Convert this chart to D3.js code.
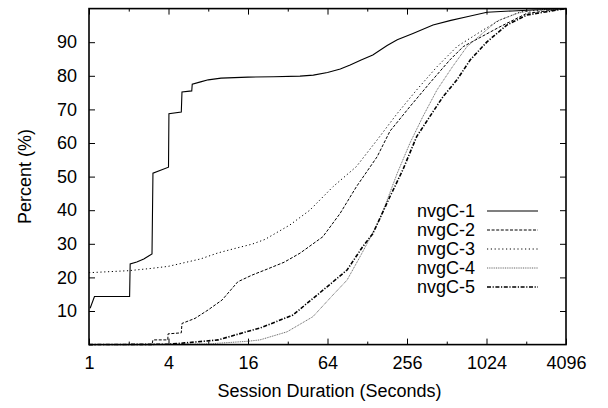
<!DOCTYPE html>
<html>
<head>
<meta charset="utf-8">
<script src="https://cdn.jsdelivr.net/npm/d3@7/dist/d3.min.js"></script>
<style>
  html, body { margin: 0; padding: 0; background: #fff; }
  svg text { font-family: "Liberation Sans", Arial, Helvetica, sans-serif; fill: #000; }
</style>
</head>
<body>
<svg id="chart" width="608" height="408"></svg>
<script>
// ---- data (duration in seconds, cumulative percent) ----
const seriesNames = ["nvgC-1", "nvgC-2", "nvgC-3", "nvgC-4", "nvgC-5"];

const nvgC1 = [[1.02,10.8],[1.1,14.3],[2.03,14.3],[2.05,24],[2.3,24.6],[2.6,25.5],[3.0,27],[3.05,51],[4.0,52.8],[4.03,68.7],[5.0,69.2],[5.06,75.2],[6.0,75.5],[6.05,77.5],[7.0,78.2],[8,78.8],[10,79.3],[16,79.6],[25,79.7],[39.6,79.9],[50,80.2],[64,81],[80,82],[95,83.2],[115,84.7],[141,86.2],[181,89],[216,90.7],[284,92.6],[403,95.1],[550,96.5],[729,97.6],[1032,98.9],[1600,99.3],[2300,99.6],[4096,100]];

const nvgC2 = [[1,0],[3.0,0],[3.05,1.4],[3.95,1.4],[3.97,3.2],[5.0,3.5],[5.06,6.3],[6.35,7.8],[7.97,10.3],[10.2,13.3],[13.4,18.7],[17.2,20.7],[21.5,22.2],[30,24.5],[39.6,27.2],[59,32.1],[79.6,39],[106,47],[152,55.9],[190,63.5],[269,70.8],[380,77.8],[540,84.7],[683,88.7],[1296,94.6],[2070,98.6],[4096,100]];

const nvgC3 = [[1,21.4],[2,22],[3,22.7],[4,23.3],[5.3,24.4],[7,25.5],[9.5,27.3],[13,28.7],[17.2,29.9],[21.5,31.3],[33.2,35.6],[47,40],[70.5,47],[106,53],[152,60.9],[216,68.8],[303,75.8],[432,82.7],[612,88.7],[1000,94],[1296,96.6],[1836,99],[2800,99.7],[4096,100]];

const nvgC4 = [[1,0],[8,0.2],[16,1.0],[19.7,1.4],[31.6,3.8],[49.6,8.3],[70.5,14.8],[90,19.2],[113,26.2],[134,31.6],[160,37.5],[181,43],[216,51],[269,59.9],[337,67.8],[432,75.8],[566,82.7],[729,88.7],[1230,96.3],[1760,98.6],[2300,99.6],[4096,100]];

const nvgC5 = [[1,0],[4,0.1],[5.3,0.5],[9.5,1.4],[17.2,4.3],[19.7,4.9],[35,8.8],[63.5,17.2],[90,22.2],[118,29.1],[141,33],[190,44],[238,52],[303,61.9],[380,67.8],[480,73.8],[612,78.8],[770,84.7],[1032,90.1],[1460,95.1],[2070,98.1],[4096,100]];

const xMajorTicks = [1, 4, 16, 64, 256, 1024, 4096];
const xMinorTicks = [2, 8, 32, 128, 512, 2048];
const yTicks = [10, 20, 30, 40, 50, 60, 70, 80, 90];

// ---- styles ----
const seriesData = [nvgC1, nvgC2, nvgC3, nvgC4, nvgC5];
const styles = [
  { stroke: "#000", width: 1.1, dash: null },
  { stroke: "#000", width: 1, dash: "3,1.6" },
  { stroke: "#000", width: 1, dash: "1.2,2.6" },
  { stroke: "#666", width: 1, dash: "1,0.8" },
  { stroke: "#000", width: 1.6, dash: "4,1.6,1.2,1.6" }
];

const L = 89, R = 566, T = 8.6, B = 344.6;
const svg = d3.select("#chart");
const x = d3.scaleLog().base(2).domain([1, 4096]).range([L, R]);
const y = d3.scaleLinear().domain([0, 100]).range([B, T]);

const fontSize = 18;

// axes
const gB = svg.append("g").attr("transform", `translate(0,${B})`)
  .call(d3.axisBottom(x).tickValues(xMajorTicks).tickSize(-6).tickPadding(12).tickFormat(d3.format("d")));
const gBm = svg.append("g").attr("transform", `translate(0,${B})`)
  .call(d3.axisBottom(x).tickValues(xMinorTicks).tickSize(-3).tickFormat(""));
const gT = svg.append("g").attr("transform", `translate(0,${T})`)
  .call(d3.axisTop(x).tickValues(xMajorTicks).tickSize(-6).tickFormat(""));
const gTm = svg.append("g").attr("transform", `translate(0,${T})`)
  .call(d3.axisTop(x).tickValues(xMinorTicks).tickSize(-3).tickFormat(""));
const gL = svg.append("g").attr("transform", `translate(${L},0)`)
  .call(d3.axisLeft(y).tickValues(yTicks).tickSize(-6).tickPadding(12).tickFormat(d3.format("d")));
const gR = svg.append("g").attr("transform", `translate(${R},0)`)
  .call(d3.axisRight(y).tickValues(yTicks).tickSize(-6).tickFormat(""));

[gB, gBm, gT, gTm, gL, gR].forEach(g => {
  g.select(".domain").remove();
  g.selectAll(".tick line").attr("stroke", "#000").attr("stroke-width", 1);
  g.selectAll("text").attr("font-size", fontSize).attr("font-family", "Liberation Sans, Arial, sans-serif").attr("fill", "#000");
});

// series
const line = d3.line().x(d => x(d[0])).y(d => y(d[1]));
const plot = svg.append("g");
seriesData.forEach((data, i) => {
  const s = styles[i];
  plot.append("path").datum(data)
    .attr("d", line)
    .attr("fill", "none")
    .attr("stroke", s.stroke)
    .attr("stroke-width", s.width)
    .attr("stroke-dasharray", s.dash);
});

// frame
svg.append("rect").attr("x", L).attr("y", T).attr("width", R - L).attr("height", B - T)
  .attr("fill", "none").attr("stroke", "#000").attr("stroke-width", 1.6);

// axis titles
svg.append("text").attr("x", (L + R) / 2 + 2).attr("y", 397).attr("text-anchor", "middle")
  .attr("font-size", fontSize).text("Session Duration (Seconds)");
svg.append("text").attr("transform", `translate(31,${(T + B) / 2}) rotate(-90)`)
  .attr("text-anchor", "middle").attr("font-size", fontSize).text("Percent (%)");

// legend
const legend = svg.append("g");
seriesNames.forEach((name, i) => {
  const ly = 211 + i * 19;
  legend.append("text").attr("x", 475).attr("y", ly + 6).attr("text-anchor", "end")
    .attr("font-size", fontSize).text(name);
  const s = styles[i];
  legend.append("line").attr("x1", 487).attr("x2", 538).attr("y1", ly).attr("y2", ly)
    .attr("stroke", s.stroke).attr("stroke-width", s.width).attr("stroke-dasharray", s.dash);
});
</script>
</body>
</html>
